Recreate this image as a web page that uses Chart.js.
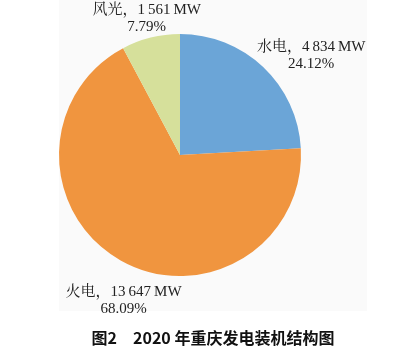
<!DOCTYPE html>
<html>
<head>
<meta charset="utf-8">
<script src="https://cdn.jsdelivr.net/npm/chart.js@4/dist/chart.umd.min.js"></script>
<style>
  html, body { margin: 0; padding: 0; background: #ffffff; }
  #wrap { width: 396px; height: 348px; position: relative; }
</style>
</head>
<body>
<div id="wrap"><canvas id="c" width="396" height="348"></canvas></div>
<script>
// 2020 installed generation capacity, Chongqing
const categories = ['水电', '火电', '风光'];
const capacityMW = [4834, 13647, 1561];
const shareLabels = ['24.12%', '68.09%', '7.79%'];
const titleText = '图2\u30002020 年重庆发电装机结构图';

const sliceColors = ['#6ba5d7', '#f0953f', '#d6e09b'];

// label placement relative to the outer midpoint of each slice (px)
const labelOffsets = [
  { dx: 48, dy: -12 },
  { dx: 3, dy: 40 },
  { dx: -4, dy: -19 }
];

function fmtMW(v) {
  // thin-space thousands grouping
  return String(v).replace(/\B(?=(\d{3})+(?!\d))/g, '\u2009');
}

const panelPlugin = {
  id: 'panel',
  beforeDraw(chart) {
    const ctx = chart.ctx;
    ctx.save();
    ctx.fillStyle = '#fafafa';
    ctx.fillRect(59, 0, 308, 311);
    ctx.restore();
  }
};

const sliceLabels = {
  id: 'sliceLabels',
  afterDraw(chart) {
    const ctx = chart.ctx;
    const meta = chart.getDatasetMeta(0);
    ctx.save();
    ctx.fillStyle = '#222222';
    ctx.font = '15px "Liberation Serif", "Noto Serif CJK SC", "Noto Sans CJK SC", serif';
    ctx.textAlign = 'center';
    ctx.textBaseline = 'middle';
    meta.data.forEach((arc, i) => {
      const p = arc.getProps(['x', 'y', 'startAngle', 'endAngle', 'outerRadius'], true);
      const mid = (p.startAngle + p.endAngle) / 2;
      const ax = p.x + Math.cos(mid) * p.outerRadius + labelOffsets[i].dx;
      const ay = p.y + Math.sin(mid) * p.outerRadius + labelOffsets[i].dy;
      ctx.fillText(categories[i] + '，' + fmtMW(capacityMW[i]) + '\u2009MW', ax, ay - 8.5);
      ctx.fillText(shareLabels[i], ax, ay + 8.5);
    });
    // figure caption
    ctx.fillStyle = '#111111';
    ctx.font = 'bold 16px "Noto Sans CJK SC", sans-serif';
    ctx.fillText(titleText, 213, 338);
    ctx.restore();
  }
};

new Chart(document.getElementById('c'), {
  type: 'pie',
  data: {
    labels: categories,
    datasets: [{
      data: capacityMW,
      backgroundColor: sliceColors,
      borderWidth: 0
    }]
  },
  options: {
    responsive: false,
    animation: false,
    layout: { padding: { left: 59, right: 95, top: 34, bottom: 72 } },
    plugins: {
      legend: { display: false },
      tooltip: { enabled: false },
      title: { display: false }
    }
  },
  plugins: [panelPlugin, sliceLabels]
});
</script>
</body>
</html>
